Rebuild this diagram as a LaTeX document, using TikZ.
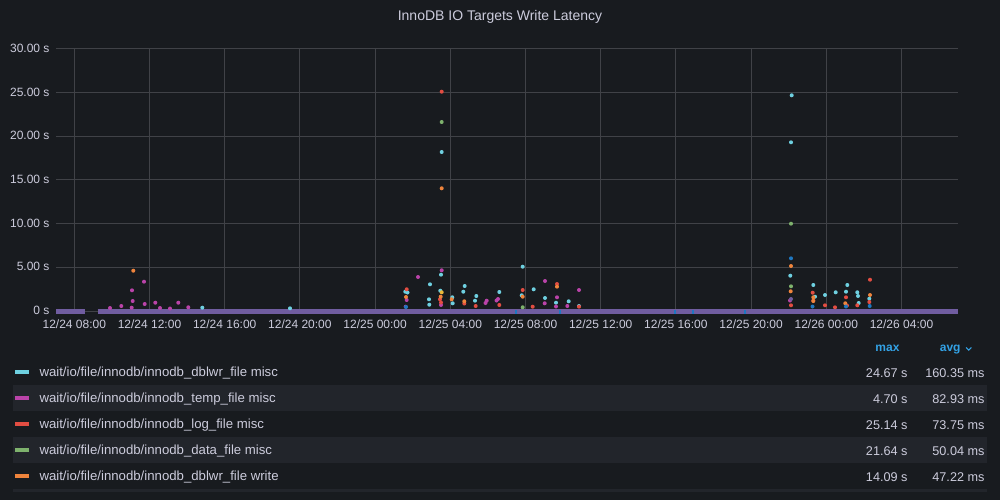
\documentclass[tikz,border=0pt]{standalone}
\usepackage{fontspec}
\setmainfont{Liberation Sans}
\definecolor{panelbg}{RGB}{24,27,31}
\definecolor{rowbg}{RGB}{34,37,43}
\definecolor{gridc}{RGB}{64,66,71}
\definecolor{textc}{RGB}{204,204,220}
\definecolor{headc}{RGB}{51,162,229}
\definecolor{cyanc}{RGB}{110,208,224}
\definecolor{magentac}{RGB}{186,67,169}
\definecolor{redc}{RGB}{226,77,66}
\definecolor{greenc}{RGB}{126,178,109}
\definecolor{orangec}{RGB}{239,132,60}
\definecolor{bluec}{RGB}{31,120,193}
\definecolor{purplec}{RGB}{112,93,160}
\definecolor{yellowc}{RGB}{234,184,57}
\tikzset{every picture/.style={line width=0.75pt}}
\tikzset{
  ticklabel/.style={text=textc, inner sep=0pt, font=\fontsize{9}{11}\selectfont},
  legendtext/.style={text=textc, inner sep=0pt, anchor=west, font=\fontsize{9.9}{11}\selectfont},
  legendval/.style={text=textc, inner sep=0pt, anchor=east, font=\fontsize{9.5}{11}\selectfont},
  headtext/.style={text=headc, inner sep=0pt, anchor=base east, font=\bfseries\fontsize{9}{11}\selectfont},
  swatch/.style={line width=3pt},
}

\begin{document}
\begin{tikzpicture}[x=0.75pt,y=0.75pt,yscale=-1,xscale=1]
%set diagram left start at 0, and has height of 500
\fill[panelbg] (0,0) rectangle (1000,500);
\useasboundingbox (0,0) rectangle (1000,500);

% Text Node
\draw (500,16.5) node (title) [text=textc, inner sep=0pt, font=\fontsize{10.5}{12}\selectfont] {InnoDB IO Targets Write Latency};

%Straight Lines (horizontal grid + y labels)
\foreach \v/\lab [count=\i] in {0/0 s,5/5.00 s,10/10.00 s,15/15.00 s,20/20.00 s,25/25.00 s,30/30.00 s}{
  \draw [gridc]   (56,311-\v*8.74) -- (958,311-\v*8.74) ;
  \draw (50,310.5-\v*8.74) node (ylab\i) [ticklabel, anchor=east] {\lab};
}

%Straight Lines (vertical grid + x labels)
\foreach \lab [count=\i from 0] in {12/24 08:00,12/24 12:00,12/24 16:00,12/24 20:00,12/25 00:00,12/25 04:00,12/25 08:00,12/25 12:00,12/25 16:00,12/25 20:00,12/26 00:00,12/26 04:00}{
  \draw [gridc]   (74.3+75.2*\i,48.8) -- (74.3+75.2*\i,311) ;
  \draw (74.3+75.2*\i,324) node (xlab\i) [ticklabel] {\lab};
}

%Straight Lines (zero band)
\draw [purplec, line width=3.2pt]   (56,311.5) -- (84.5,311.5) ;
\draw [purplec, line width=3.2pt]   (97.5,311.5) -- (958,311.5) ;
\foreach \x in {516,560,675,693,745}{
  \fill [bluec] (\x-0.8,309.5) rectangle (\x+0.8,313.5);
}

%Shape: Circle (points)
\foreach \x/\y in {441.7/152,441/274.7,430/284.3,405.3/291.7,407.5/292.5,429/299.3,429.3/304.7,440.3/290.7,452.3/297.3,452.7/303.3,464.7/286,463.3/291.7,476.3/296,475/300.7,499.3/292,522.7/266.7,521.7/295.3,533.7/289.3,545/298,556/302.7,568.7/301.3,579/306,290/308.3,202.3/307.7,791.7/95.3,791/142.3,790.3/275.7,813.3/285,815/296.7,825/295,835.7/292.3,847.3/285,846/291.7,857.3/292.3,858/296,858.7/303,869.3/298.7}
  \fill [cyanc] (\x,\y) circle [radius=2];
\foreach \x/\y in {441.7/270.3,418/277,406.7/300,405.7/306.7,486.7/300.7,485.5/303,498/299,496.5/300.5,545/281,544.7/303.3,557/297.3,556/306.5,579/290,567.3/306,441/305,144/281.7,132/290.3,132.7/301,144.7/304,155.3/302.7,121.3/306,178.3/302.7,188.3/307.3,131.7/307.7,110/308,160/308,170/308.5,790/300.5}
  \fill [magentac] (\x,\y) circle [radius=2];
\foreach \x/\y in {441.7/91.7,406.7/289.3,440/299.3,441/302.5,464.3/303.5,475.7/306,499.3/305,522.7/290,532.7/306.7,557/284,579/306.7,791/305.3,812.7/292.7,813.3/300.7,825/305.3,835/307.3,846/297.3,847/305.5,857.3/305.3,870/279.7,869.3/302}
  \fill [redc] (\x,\y) circle [radius=2];
\foreach \x/\y in {441.7/122,522.7/307.3,791/223.7,791/286.3}
  \fill [greenc] (\x,\y) circle [radius=2];
\foreach \x/\y in {441.7/188.3,406/297,440.7/296.7,451.7/299.3,464.3/301.3,522.7/296.7,557/286.7,133.3/270.7,791/266,790.7/291.3,813.3/297.3,813.3/301,845.3/303.3,870/295}
  \fill [orangec] (\x,\y) circle [radius=2];
\foreach \x/\y in {791/258.3,812.5/306.5,869.7/306,846/306.5,406/307}
  \fill [bluec] (\x,\y) circle [radius=2];
\fill [purplec] (791,299) circle [radius=2];
\fill [yellowc] (441.7,292.3) circle [radius=2];

%Shape: Rectangle (legend stripes)
\fill [rowbg] (13,385) rectangle (987,410.7);
\fill [rowbg] (13,437) rectangle (987,462.7);
\fill [rowbg] (13,489) rectangle (987,492);

% Text Node (legend header)
\draw (900,351.5) node (maxhead) [headtext] {max};
\draw (961,351.5) node (avghead) [headtext] {avg};
\draw [headc, line width=0.8pt]   (966,347.5) -- (968.7,350.2) -- (971.4,347.5) ;

% Text Node (legend rows)
\foreach \c/\name/\mx/\av [count=\i from 0] in {cyanc/wait\slash io\slash file\slash innodb\slash innodb\_dblwr\_file misc/24.67 s/160.35 ms,
  magentac/wait\slash io\slash file\slash innodb\slash innodb\_temp\_file misc/4.70 s/82.93 ms,
  redc/wait\slash io\slash file\slash innodb\slash innodb\_log\_file misc/25.14 s/73.75 ms,
  greenc/wait\slash io\slash file\slash innodb\slash innodb\_data\_file misc/21.64 s/50.04 ms,
  orangec/wait\slash io\slash file\slash innodb\slash innodb\_dblwr\_file write/14.09 s/47.22 ms}{
  \draw [\c, swatch]   (15,372+26*\i) -- (29,372+26*\i) ;
  \draw (39,372.8+26*\i) node (name\i) [legendtext] {\name};
  \draw (908,372.8+26*\i) node (max\i) [legendval] {\mx};
  \draw (985,372.8+26*\i) node (avg\i) [legendval] {\av};
}

\end{tikzpicture}
\end{document}
